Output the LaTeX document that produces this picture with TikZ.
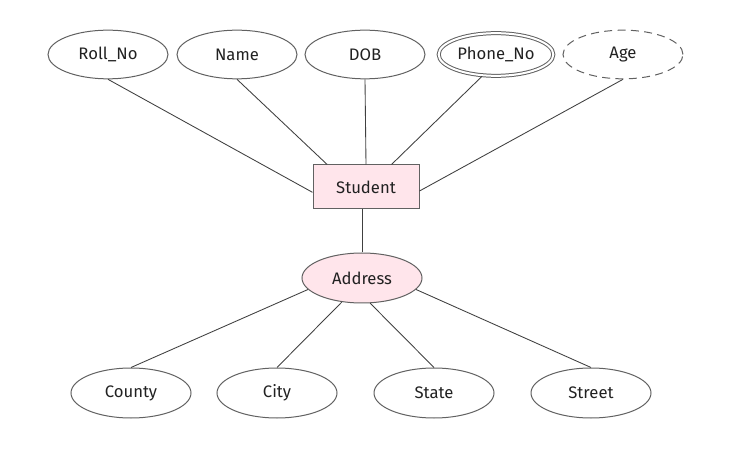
\documentclass[tikz,border=0pt]{standalone}
\usepackage{fontspec}
\setmainfont{Fira Sans}
\usepackage{tikz}
\usetikzlibrary{shapes.geometric}
\definecolor{edgegray}{rgb}{0.38,0.38,0.38}
\definecolor{linegray}{rgb}{0.25,0.25,0.25}
\definecolor{pinkfill}{rgb}{1.0,0.9,0.92}
\definecolor{txt}{rgb}{0.13,0.13,0.13}

\begin{document}
\begin{tikzpicture}[x=0.75pt,y=-0.75pt,
  font=\fontsize{12.5}{14}\selectfont, text=txt,
  attr/.style={ellipse, draw=edgegray, line width=0.75pt, minimum width=90pt, minimum height=36.5pt, inner sep=0pt},
  entity/.style={rectangle, draw=edgegray, line width=0.75pt, fill=pinkfill, minimum width=79.5pt, minimum height=33pt},
  link/.style={-, line width=0.65pt, linegray}]
\useasboundingbox (0,0) rectangle (739,452);
\node[attr] (roll) at (108,54.5) {Roll\_No};
\node[attr] (name) at (237,54.5) {Name};
\node[attr] (dob) at (365,54.5) {DOB};
\node[attr, double, double distance=1.5pt, minimum width=86pt, minimum height=32pt] (phone) at (496,54.5) {Phone\_No};
\node[attr, dash pattern=on 6pt off 4pt] (age) at (623,54.5) {Age};
\node[entity] (stu) at (366,187) {Student};
\node[attr, fill=pinkfill, minimum height=37.5pt] (addr) at (362,278) {Address};
\node[attr, minimum height=37.5pt] (county) at (131,393) {County};
\node[attr, minimum height=37.5pt] (city) at (277,393) {City};
\node[attr, minimum height=37.5pt] (state) at (434,393) {State};
\node[attr, minimum height=37.5pt] (street) at (591,393) {Street};
\draw [link] (roll.south) -- ([yshift=-4pt] stu.west);
\draw [link] (name.south) -- ([xshift=11pt] stu.north west);
\draw [link] (dob.south) -- (stu.north);
\draw [link] ([xshift=-10.5pt] phone.south) -- ([xshift=-21pt] stu.north east);
\draw [link] (age.south) -- ([yshift=-3pt] stu.east);
\draw [link] ([xshift=-3pt] stu.south) -- (addr.north);
\draw [link] (addr.192) -- (county.north);
\draw [link] (addr.230) -- (city.north);
\draw [link] (addr.288) -- (state.north);
\draw [link] (addr.348) -- (street.north);
\end{tikzpicture}
\end{document}
